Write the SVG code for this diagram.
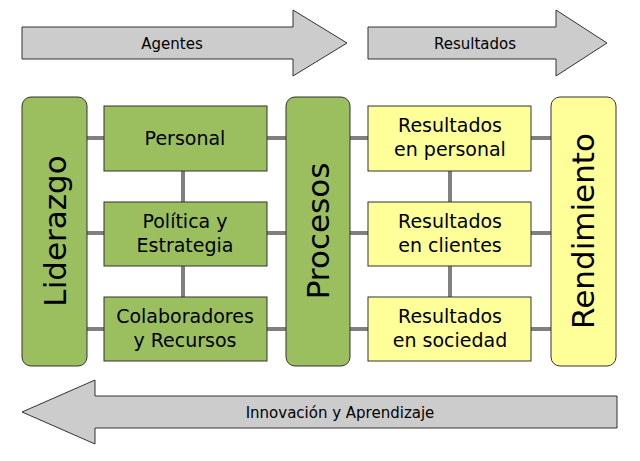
<svg xmlns="http://www.w3.org/2000/svg" width="640" height="461" viewBox="0 0 640 461">
<style>
text{font-family:"DejaVu Sans",sans-serif;fill:#000;text-anchor:middle}
.arr{fill:#cccccc;stroke:#333;stroke-width:1}
.g{fill:#9bbf5f;stroke:#333;stroke-width:1}
.y{fill:#ffff99;stroke:#333;stroke-width:1}
.c{stroke:#808080;stroke-width:4;fill:none}
.t{font-size:19px}
.a{font-size:15px}
.big{font-size:31px}
</style>
<rect width="640" height="461" fill="#fff"/>
<g id="connectors">
<path class="c" d="M87 138H551M87 233H551M87 329H551M183 171V202M183 266V297M450 171V202M450 266V297"/>
</g>
<g id="agentes"><path class="arr" d="M22 27H293V10L347 43L293 76V59H22Z"/><text class="a" x="172" y="49">Agentes</text></g>
<g id="resultados"><path class="arr" d="M368 27H556V10L607 43L556 76V59H368Z"/><text class="a" x="475" y="49">Resultados</text></g>
<g id="innovacion"><path class="arr" d="M617 396H95V380L22 412L95 444V428H617Z"/><text class="a" x="340" y="418">Innovación y Aprendizaje</text></g>
<g id="liderazgo"><rect class="g" x="22" y="97" width="65" height="269" rx="9"/><text class="big" transform="translate(66 231) rotate(-90)">Liderazgo</text></g>
<g id="personal"><rect class="g" x="104" y="106" width="163" height="65"/><text class="t" x="185" y="145">Personal</text></g>
<g id="politica"><rect class="g" x="104" y="202" width="163" height="64"/><text class="t" x="185" y="228">Política y</text><text class="t" x="185" y="252">Estrategia</text></g>
<g id="colaboradores"><rect class="g" x="104" y="297" width="163" height="64"/><text class="t" x="185" y="323">Colaboradores</text><text class="t" x="185" y="347">y Recursos</text></g>
<g id="procesos"><rect class="g" x="286" y="97" width="64" height="269" rx="9"/><text class="big" transform="translate(329 231) rotate(-90)">Procesos</text></g>
<g id="rpersonal"><rect class="y" x="368" y="106" width="163" height="65"/><text class="t" x="450" y="132">Resultados</text><text class="t" x="450" y="156">en personal</text></g>
<g id="rclientes"><rect class="y" x="368" y="202" width="163" height="64"/><text class="t" x="450" y="228">Resultados</text><text class="t" x="450" y="252">en clientes</text></g>
<g id="rsociedad"><rect class="y" x="368" y="297" width="163" height="64"/><text class="t" x="450" y="323">Resultados</text><text class="t" x="450" y="347">en sociedad</text></g>
<g id="rendimiento"><rect class="y" x="551" y="97" width="65" height="269" rx="9"/><text class="big" transform="translate(594 231) rotate(-90)">Rendimiento</text></g>
</svg>
